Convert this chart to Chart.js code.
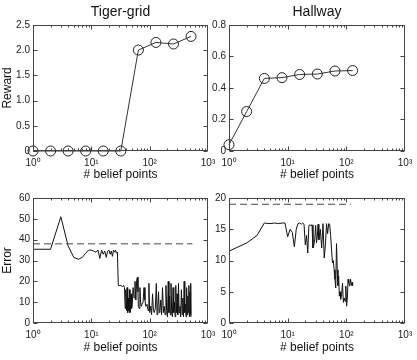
<!DOCTYPE html>
<html>
<head>
<meta charset="utf-8">
<script src="https://cdn.jsdelivr.net/npm/chart.js@4.4.1/dist/chart.umd.min.js"></script>
<style>
  body { margin: 0; background: #fff; }
  #wrap { position: relative; width: 417px; height: 360px; }
  #wrap canvas { position: absolute; left: 0; top: 0; }
</style>
</head>
<body>
<div id="wrap">
  <canvas id="tigerReward" width="417" height="360"></canvas>
  <canvas id="hallReward" width="417" height="360"></canvas>
  <canvas id="tigerError" width="417" height="360"></canvas>
  <canvas id="hallError" width="417" height="360"></canvas>
</div>
<script>
// ---- data ----
var xTicks = [1, 10, 100, 1000];

// reward vs number of belief points
var tigerRewardN = [1, 2, 4, 8, 16, 32, 64, 128, 256, 512];
var tigerReward  = [0, 0, 0, 0, 0, 0, 2.0, 2.15, 2.12, 2.27];
var hallRewardN  = [1, 2, 4, 8, 16, 32, 64, 128];
var hallReward   = [0.04, 0.25, 0.46, 0.465, 0.485, 0.488, 0.507, 0.51];

// error vs number of belief points
var tigerErrN = [1, 2, 3, 4, 5, 6, 7, 8, 9, 10, 11, 12, 13, 14, 15, 16, 17, 18, 19, 20,
  21, 22, 23, 24, 25, 26, 27, 28, 29, 30, 32, 34, 36, 37, 38, 39, 40, 41, 42, 43,
  44, 45, 46, 47, 48, 49, 50, 52, 54, 56, 58, 60, 62, 63, 64, 66, 68, 70, 72, 74,
  77, 80, 83, 86, 90, 94, 97, 100, 104, 108, 112, 116, 120, 125, 130, 134, 138, 142, 146, 150,
  155, 160, 166, 172, 178, 184, 190, 196, 202, 208, 214, 220, 226, 232, 238, 245, 252, 259, 266, 273,
  280, 288, 296, 304, 312, 320, 330, 340, 350, 360, 370, 380, 390, 400, 410, 420, 430, 440, 450, 460,
  470, 480, 490, 500, 506, 512];
var tigerErr = [35.4, 35.4, 51, 37, 31.5, 30.6, 31.5, 33.5, 35, 35, 34.5, 34, 35, 31, 35, 33, 34.5, 31.5, 34.5, 35,
  33, 34.5, 32, 35, 34, 35, 33.5, 34, 18, 18, 18, 17.5, 18, 17, 7, 16, 6, 17, 5, 12,
  6, 16, 5, 9, 14, 7, 8, 17, 12, 20, 11, 21, 22, 15, 8, 7, 17, 10, 8, 9,
  10, 17, 11, 8, 9, 6, 19, 5, 8, 4, 14, 6, 5, 7, 19, 4, 8, 15, 5, 6,
  11, 4, 17, 5, 8, 4, 18, 6, 3, 20, 5, 13, 4, 19, 6, 3, 17, 5, 10, 3,
  18, 5, 14, 4, 19, 5, 8, 3, 16, 4, 12, 3, 20, 5, 9, 3, 17, 4, 13, 5,
  18, 3, 15, 4, 19, 3];
var tigerBase = 38;
var tigerBaseEnd = 540;

var hallErrN = [1, 2, 3, 4, 5, 6, 7, 8, 9, 10, 11, 12, 13, 14, 15, 16, 17, 18, 19, 20,
  21, 22, 23, 24, 25, 26, 27, 28, 29, 30, 31, 32, 33, 34, 36, 38, 40, 42, 44, 46,
  48, 50, 52, 54, 56, 58, 60, 62, 64, 66, 68, 70, 72, 74, 76, 78, 80, 83, 86, 89,
  92, 95, 98, 101, 104, 107, 110, 114, 118, 122, 125, 128];
var hallErr = [11.5, 12.8, 14, 16, 15.9, 16, 15.9, 16, 16, 13.8, 15, 14.5, 12.2, 15, 15.9, 16, 15.8, 16, 15.8, 12.5,
  14, 11.2, 15.6, 15.7, 15.6, 15.7, 12, 12.5, 13.5, 15.6, 12.8, 13.8, 15.8, 13.3, 15, 12, 15.9, 10.4, 12.5, 15.9,
  14.3, 15.9, 15.8, 14, 11.7, 9.6, 10, 8.5, 7, 5.6, 12.7, 8.5, 6, 7.5, 4.3, 5, 3.8, 4.5, 6.4, 3.3,
  4, 3.5, 5.9, 2.7, 4, 7, 6.4, 5.9, 7, 6, 6.5, 6];
var hallBase = 19;
var hallBaseEnd = 120;

// ---- look ----
Chart.defaults.font.family = "'Liberation Sans', Arial, sans-serif";
Chart.defaults.color = '#222';
var sup = ['\u2070', '\u00b9', '\u00b2', '\u00b3'];
var tickFont = { size: 10 };
var labelFont = { size: 12 };

function pts(xs, ys) {
  return xs.map(function (x, i) { return { x: x, y: ys[i] }; });
}

// box round the axes with inward ticks, like the original plots
var frameTicks = {
  id: 'frameTicks',
  afterDraw: function (chart) {
    var ctx = chart.ctx, a = chart.chartArea;
    var xs = chart.scales.x, ys = chart.scales.y;
    var l = Math.round(a.left) + 0.5, r = Math.round(a.right) - 0.5;
    var t = Math.round(a.top) + 0.5, b = Math.round(a.bottom) - 0.5;
    ctx.save();
    ctx.strokeStyle = '#444';
    ctx.lineWidth = 1;
    ctx.strokeRect(l, t, r - l, b - t);
    ctx.beginPath();
    for (var d = 0; d < 3; d++) {
      for (var k = 1; k <= 9; k++) {
        var px = Math.round(xs.getPixelForValue(k * Math.pow(10, d))) + 0.5;
        var len = k === 1 ? 4 : 2;
        ctx.moveTo(px, b); ctx.lineTo(px, b - len);
        ctx.moveTo(px, t); ctx.lineTo(px, t + len);
      }
    }
    ys.ticks.forEach(function (tk) {
      var py = Math.round(ys.getPixelForValue(tk.value)) + 0.5;
      ctx.moveTo(l, py); ctx.lineTo(l + 4, py);
      ctx.moveTo(r, py); ctx.lineTo(r - 4, py);
    });
    ctx.stroke();
    ctx.restore();
  }
};

function xScale(h) {
  return {
    type: 'logarithmic', min: 1, max: 1000,
    grid: { display: false, drawTicks: false },
    border: { display: false },
    ticks: {
      font: tickFont, padding: 6, autoSkip: false, maxRotation: 0,
      callback: function (v) { return '10' + sup[Math.round(Math.log10(v))]; }
    },
    afterBuildTicks: function (s) {
      s.ticks = xTicks.map(function (v) { return { value: v }; });
    },
    afterFit: function (s) { s.height = h; s.paddingLeft = 0; s.paddingRight = 0; },
    title: { display: true, text: '# belief points', font: labelFont, color: '#111', padding: 0 }
  };
}

function yScale(max, step, w, title) {
  return {
    type: 'linear', min: 0, max: max,
    grid: { display: false, drawTicks: false },
    border: { display: false },
    ticks: { font: tickFont, padding: 3, stepSize: step },
    afterFit: function (s) { s.width = w; },
    title: { display: !!title, text: title || '', font: labelFont, color: '#111', padding: 0 }
  };
}

function makeChart(id, datasets, opts) {
  return new Chart(document.getElementById(id), {
    type: 'line',
    data: { datasets: datasets },
    options: {
      responsive: false,
      animation: false,
      events: [],
      layout: { padding: opts.padding },
      plugins: {
        legend: { display: false },
        tooltip: { enabled: false },
        title: {
          display: !!opts.title, text: opts.title || '', fullSize: false,
          font: { size: 14, weight: 'normal' }, color: '#111',
          padding: { top: 4, bottom: 4 }
        }
      },
      scales: { x: xScale(opts.xh), y: yScale(opts.max, opts.step, opts.yw, opts.ytitle) }
    },
    plugins: [frameTicks]
  });
}

function circleLine(xs, ys) {
  return {
    data: pts(xs, ys), borderColor: '#333', borderWidth: 1,
    pointRadius: 5, pointBorderColor: '#222', pointBackgroundColor: 'rgba(0,0,0,0)',
    pointBorderWidth: 1, clip: false
  };
}

function noisyLine(xs, ys) {
  return { data: pts(xs, ys), borderColor: '#111', borderWidth: 1, pointRadius: 0 };
}

function dashed(y, end) {
  return {
    data: [{ x: 1, y: y }, { x: end, y: y }], borderColor: '#444', borderWidth: 1,
    borderDash: [7, 4], pointRadius: 0
  };
}

makeChart('tigerReward', [circleLine(tigerRewardN, tigerReward)], {
  title: 'Tiger-grid', max: 2.5, step: 0.5, yw: 33, ytitle: 'Reward', xh: 31,
  padding: { left: 0, top: 0, right: 209, bottom: 178 }
});
makeChart('hallReward', [circleLine(hallRewardN, hallReward)], {
  title: 'Hallway', max: 0.8, step: 0.2, yw: 29, xh: 31,
  padding: { left: 200, top: 0, right: 12, bottom: 178 }
});
makeChart('tigerError', [dashed(tigerBase, tigerBaseEnd), noisyLine(tigerErrN, tigerErr)], {
  max: 60, step: 10, yw: 33, ytitle: 'Error', xh: 32,
  padding: { left: 0, top: 198, right: 209, bottom: 5 }
});
makeChart('hallError', [dashed(hallBase, hallBaseEnd), noisyLine(hallErrN, hallErr)], {
  max: 20, step: 5, yw: 29, xh: 32,
  padding: { left: 200, top: 198, right: 12, bottom: 5 }
});
</script>
</body>
</html>
